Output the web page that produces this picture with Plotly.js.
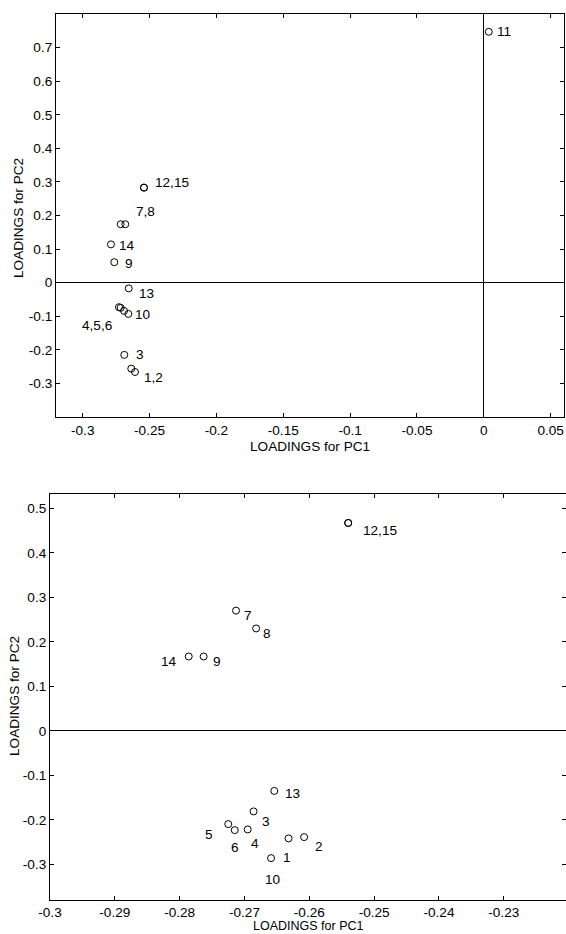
<!DOCTYPE html>
<html>
<head>
<meta charset="utf-8">
<script src="https://cdn.plot.ly/plotly-3.0.1.min.js"></script>
<style>
html,body{margin:0;padding:0;background:#fff;}
#chart{width:566px;height:934px;}
</style>
</head>
<body>
<div id="chart"></div>
<script>
// ---- Data: variable numbers 1..15 ----
var variables = [1,2,3,4,5,6,7,8,9,10,11,12,13,14,15];

// Top panel loadings
var topPC1 = [-0.2637,-0.2609,-0.2689,-0.2729,-0.2716,-0.2691,-0.2716,-0.2682,-0.2764,-0.2659,0.0037,-0.2542,-0.2656,-0.2789,-0.2542];
var topPC2 = [-0.256,-0.266,-0.215,-0.073,-0.075,-0.084,0.174,0.174,0.061,-0.093,0.747,0.283,-0.017,0.114,0.283];

// Bottom panel loadings (variable 11 not present)
var botPC1 = [-0.2632,-0.2608,-0.2686,-0.2695,-0.2725,-0.2715,-0.2713,-0.2682,-0.2763,-0.2659,null,-0.2540,-0.2654,-0.2786,-0.2540];
var botPC2 = [-0.2416,-0.2387,-0.181,-0.2215,-0.2095,-0.223,0.270,0.230,0.167,-0.286,null,0.467,-0.135,0.167,0.467];

// Point labels and the variable each label belongs to
var topLabels = ["1,2","3","4,5,6","7,8","9","10","11","12,15","13","14"];
var topLabelVar = [2,3,4,8,9,10,11,12,13,14];
var botLabels = ["1","2","3","4","5","6","7","8","9","10","12,15","13","14"];
var botLabelVar = [1,2,3,4,5,6,7,8,9,10,12,13,14];

// Axis titles
var xTitle = "LOADINGS for PC1";
var yTitle = "LOADINGS for PC2";

// Tick values / labels
var topXTicks = [-0.3,-0.25,-0.2,-0.15,-0.1,-0.05,0,0.05];
var topXText = ["-0.3","-0.25","-0.2","-0.15","-0.1","-0.05","0","0.05"];
var topYTicks = [-0.3,-0.2,-0.1,0,0.1,0.2,0.3,0.4,0.5,0.6,0.7];
var topYText = ["-0.3","-0.2","-0.1","0","0.1","0.2","0.3","0.4","0.5","0.6","0.7"];
var botXTicks = [-0.3,-0.29,-0.28,-0.27,-0.26,-0.25,-0.24,-0.23];
var botXText = ["-0.3","-0.29","-0.28","-0.27","-0.26","-0.25","-0.24","-0.23"];
var botYTicks = [-0.3,-0.2,-0.1,0,0.1,0.2,0.3,0.4,0.5];
var botYText = ["-0.3","-0.2","-0.1","0","0.1","0.2","0.3","0.4","0.5"];

// ---- Style (pixel offsets of labels from their points: [dx, dy-down]) ----
var topOffsets = [[18,5],[16,0],[-22,18],[20,-13],[15,1],[15,1],[15,0],[28,-5],[18,5],[16,1]];
var botOffsets = [[-2,19],[15,9],[12,10],[7,14],[-19,10],[0,17],[12,5],[11,5],[13,5],[2,21],[32,8],[18,3],[-20,5]];

var FONT = {family:'Arial, "Liberation Sans", Helvetica, sans-serif', size:13.6, color:'#000'};
var FONT_SMALL = {family: FONT.family, size:12.5, color:'#000'};
var W = 566, H = 934;

var marker = {symbol:'circle-open', size:7, color:'#000', line:{width:1, color:'#000'}};

var traces = [
  {x: topPC1, y: topPC2, text: variables, type:'scatter', mode:'markers', marker: marker, xaxis:'x', yaxis:'y', hoverinfo:'x+y+text'},
  {x: botPC1, y: botPC2, text: variables, type:'scatter', mode:'markers', marker: marker, xaxis:'x2', yaxis:'y2', hoverinfo:'x+y+text'}
];

function axisBase(){
  return {
    showline:true, linecolor:'#000', linewidth:1, mirror:'ticks',
    ticks:'inside', ticklen:4, tickcolor:'#000', tickwidth:1,
    showgrid:false, zeroline:true, zerolinecolor:'#000', zerolinewidth:1,
    tickfont: FONT, automargin:false, tickmode:'array'
  };
}

var xa1 = axisBase(); Object.assign(xa1, {
  domain:[56/W, 564/W], range:[-0.32,0.06], anchor:'y',
  tickvals: topXTicks, ticktext: topXText, ticklabelstandoff:1
});
var ya1 = axisBase(); Object.assign(ya1, {
  domain:[1-417/H, 1-14/H], range:[-0.4,0.8], anchor:'x',
  tickvals: topYTicks, ticktext: topYText
});
var xa2 = axisBase(); Object.assign(xa2, {
  domain:[50/W, 1], range:[-0.3,-0.2204], anchor:'y2',
  tickvals: botXTicks, ticktext: botXText, ticklabelstandoff:0
});
var ya2 = axisBase(); Object.assign(ya2, {
  domain:[1-900/H, 1-494/H], range:[-0.38,0.532], anchor:'x2',
  tickvals: botYTicks, ticktext: botYText
});

var annotations = [];
topLabels.forEach(function(t,i){
  var k = topLabelVar[i]-1;
  annotations.push({xref:'x', yref:'y', x: topPC1[k], y: topPC2[k], text:t, showarrow:false,
    xanchor:'center', yanchor:'middle', xshift: topOffsets[i][0], yshift: -topOffsets[i][1], font: FONT});
});
botLabels.forEach(function(t,i){
  var k = botLabelVar[i]-1;
  annotations.push({xref:'x2', yref:'y2', x: botPC1[k], y: botPC2[k], text:t, showarrow:false,
    xanchor:'center', yanchor:'middle', xshift: botOffsets[i][0], yshift: -botOffsets[i][1], font: FONT});
});
// Axis titles (placed in page pixels converted to paper fractions)
function titleAnn(text, px, py, angle, yanchor, font){
  return {xref:'paper', yref:'paper', x: px/W, y: 1-py/H, text:text, showarrow:false,
    xanchor:'center', yanchor: yanchor || 'middle', textangle: angle, font: font || FONT};
}
annotations.push(titleAnn(xTitle, 310, 446, 0));
annotations.push(titleAnn(yTitle, 18, 218, -90));
annotations.push(titleAnn(xTitle, 308, 935, 0, 'bottom', FONT_SMALL));
annotations.push(titleAnn(yTitle, 14, 696, -90));

var layout = {
  width: W, height: H,
  margin:{l:0, r:0, t:0, b:0, pad:0},
  paper_bgcolor:'#fff', plot_bgcolor:'#fff',
  showlegend:false,
  font: FONT,
  xaxis: xa1, yaxis: ya1, xaxis2: xa2, yaxis2: ya2,
  annotations: annotations
};

Plotly.newPlot('chart', traces, layout, {displayModeBar:false, staticPlot:true});
</script>
</body>
</html>
